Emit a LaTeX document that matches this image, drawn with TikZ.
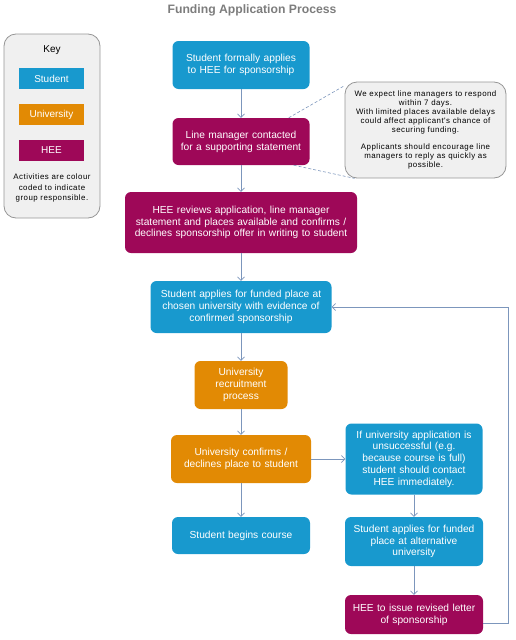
\documentclass[tikz,border=0pt]{standalone}
\usepackage{fontspec}
\setmainfont{Liberation Sans}
\newfontfamily\notefont{Liberation Sans}[LetterSpace=6]
\usetikzlibrary{calc,arrows.meta,shapes,positioning}
\definecolor{studentblue}{RGB}{24,153,206}
\definecolor{uniorange}{RGB}{226,138,4}
\definecolor{heepurple}{RGB}{158,8,88}
\definecolor{flowline}{RGB}{124,150,188}
\definecolor{panelgray}{RGB}{240,240,240}
\definecolor{panelborder}{RGB}{150,150,150}
\definecolor{titlegray}{RGB}{125,125,125}
\tikzset{
    step box/.style={
    rectangle,rounded corners=6pt,text=white,inner sep=0pt,align=center,
    font=\fontsize{10.2}{11.8}\selectfont
    },
    student/.style={
    step box,fill=studentblue
    },
    university/.style={
    step box,fill=uniorange
    },
    hee/.style={
    step box,fill=heepurple
    },
    keyitem/.style={
    rectangle,text=white,minimum width=65,minimum height=21,inner sep=0pt,
    font=\fontsize{10}{11.6}\selectfont
    },
    panel/.style={
    rectangle,rounded corners=12pt,draw=panelborder,fill=panelgray,line width=0.8pt
    },
    flow/.style={
    draw=flowline,line width=0.7pt,-{Straight Barb[length=3.5pt,width=7pt]}
    },
    callout/.style={
    draw=flowline,line width=0.6pt,densely dashed
    },
}

\begin{document}
\begin{tikzpicture}[x=1pt,y=-1pt]
   \useasboundingbox (0,0) rectangle (516,640);
   \node[font=\bfseries\fontsize{12.2}{14}\selectfont,text=titlegray] (title) at (252,10) {Funding Application Process};

   % key
   \node[panel,minimum width=96,minimum height=184] (key) at (52,126) {};
   \node[font=\fontsize{10}{11}\selectfont] (keytitle) at (52,50) {Key};
   \node[keyitem,fill=studentblue] (kstudent) at (51.5,78.5) {Student};
   \node[keyitem,fill=uniorange] (kuni) at (51.5,114.5) {University};
   \node[keyitem,fill=heepurple] (khee) at (51.5,150.5) {HEE};
   \node[align=center,font=\notefont\fontsize{7.9}{10.2}\selectfont] (keytext) at (52,188)
     {Activities are colour\\coded to indicate\\group responsible.};

   % main column
   \node[student,minimum width=137,minimum height=48,text width=131] (apply) at (241,65)
     {Student formally applies\\to HEE for sponsorship};
   \node[hee,minimum width=137,minimum height=47,text width=131] (manager) at (241,141.5)
     {Line manager contacted\\for a supporting statement};
   \node[hee,minimum width=232,minimum height=61,text width=226] (review) at (241,222.5)
     {HEE reviews application, line manager\\statement and places available and confirms /\\declines sponsorship offer in writing to student};
   \node[student,minimum width=181,minimum height=52,text width=175] (place) at (241,307)
     {Student applies for funded place at\\chosen university with evidence of\\confirmed sponsorship};
   \node[university,minimum width=93,minimum height=48,text width=87] (recruit) at (241,385)
     {University\\recruitment\\process};
   \node[university,minimum width=140,minimum height=48,text width=134] (confirm) at (241,459)
     {University confirms /\\declines place to student};
   \node[student,minimum width=138,minimum height=37,text width=132] (begin) at (241,535.5)
     {Student begins course};

   % right column
   \node[student,minimum width=137,minimum height=71,text width=131] (fail) at (414,459)
     {If university application is\\unsuccessful (e.g.\\because course is full)\\student should contact\\HEE immediately.};
   \node[student,minimum width=138,minimum height=49,text width=132] (alt) at (414,541.5)
     {Student applies for funded\\place at alternative\\university};
   \node[hee,minimum width=138,minimum height=39,text width=132] (revised) at (414,614.5)
     {HEE to issue revised letter\\of sponsorship};

   % note
   \node[panel,minimum width=161,minimum height=96,align=center,
     font=\notefont\fontsize{7.9}{9}\selectfont] (note) at (425.5,130)
     {We expect line managers to respond\\within 7 days.\\With limited places available delays\\could affect applicant's chance of\\securing funding.\\[8pt]Applicants should encourage line\\managers to reply as quickly as\\possible.};
   \draw[callout] ([xshift=-21]manager.north east) -- ([yshift=-4]note.north west);
   \draw[callout] ([xshift=-16]manager.south east) -- ([xshift=10]note.south west);

  \path[flow]
    (apply) edge (manager)
    (manager) edge (review)
    (review) edge (place)
    (place) edge (recruit)
    (recruit) edge (confirm)
    (confirm) edge (begin)
    (confirm) edge (fail)
    (fail) edge (alt)
    (alt) edge (revised);
  \draw[flow] ([yshift=-9]revised.east) -- ++(25,0) |- (place.east);
\end{tikzpicture}
\end{document}
